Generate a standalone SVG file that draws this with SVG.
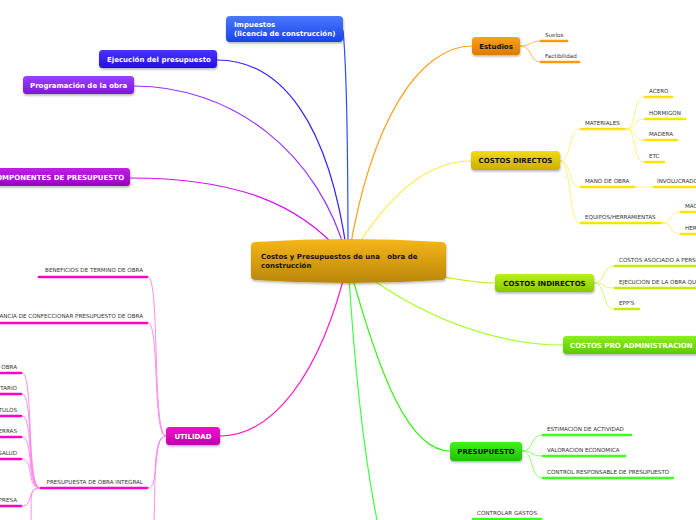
<svg xmlns="http://www.w3.org/2000/svg" width="696" height="520" viewBox="0 0 696 520">
<defs>
<linearGradient id="gC" x1="0" y1="0" x2="0" y2="1"><stop offset="0" stop-color="#f6b617"/><stop offset="1" stop-color="#b9860a"/></linearGradient>
<linearGradient id="gBlue" x1="0" y1="0" x2="0" y2="1"><stop offset="0" stop-color="#4a78ff"/><stop offset="1" stop-color="#1a44e8"/></linearGradient>
<linearGradient id="gInd" x1="0" y1="0" x2="0" y2="1"><stop offset="0" stop-color="#4a34ff"/><stop offset="1" stop-color="#2410e0"/></linearGradient>
<linearGradient id="gVio" x1="0" y1="0" x2="0" y2="1"><stop offset="0" stop-color="#9a40ff"/><stop offset="1" stop-color="#7a18e0"/></linearGradient>
<linearGradient id="gMag" x1="0" y1="0" x2="0" y2="1"><stop offset="0" stop-color="#c020e8"/><stop offset="1" stop-color="#9a00c0"/></linearGradient>
<linearGradient id="gOr" x1="0" y1="0" x2="0" y2="1"><stop offset="0" stop-color="#fba21a"/><stop offset="1" stop-color="#dc7a00"/></linearGradient>
<linearGradient id="gYe" x1="0" y1="0" x2="0" y2="1"><stop offset="0" stop-color="#f2dc10"/><stop offset="1" stop-color="#c8b000"/></linearGradient>
<linearGradient id="gYg" x1="0" y1="0" x2="0" y2="1"><stop offset="0" stop-color="#b8f020"/><stop offset="1" stop-color="#88c800"/></linearGradient>
<linearGradient id="gLg" x1="0" y1="0" x2="0" y2="1"><stop offset="0" stop-color="#8cf020"/><stop offset="1" stop-color="#5cc800"/></linearGradient>
<linearGradient id="gGr" x1="0" y1="0" x2="0" y2="1"><stop offset="0" stop-color="#44f020"/><stop offset="1" stop-color="#20c000"/></linearGradient>
<linearGradient id="gPk" x1="0" y1="0" x2="0" y2="1"><stop offset="0" stop-color="#f010d0"/><stop offset="1" stop-color="#c000a8"/></linearGradient>
<filter id="sh" x="-10%" y="-20%" width="120%" height="150%"><feDropShadow dx="0.5" dy="1.5" stdDeviation="1" flood-color="#000" flood-opacity="0.3"/></filter>
</defs>
<style>
.c{fill:none;stroke-width:1.2}
.u{fill:none;stroke-width:2.6;stroke-linecap:round}
.l{fill:none;stroke-width:0.9}
.t{font-family:"DejaVu Sans",Verdana,sans-serif;font-size:5.6px;fill:#333}
.n{font-family:"DejaVu Sans",Verdana,sans-serif;font-size:7px;font-weight:bold;fill:#fff}
.nb{font-family:"DejaVu Sans",Verdana,sans-serif;font-size:7px;font-weight:bold;fill:#111}
.cb{font-family:"DejaVu Sans",Verdana,sans-serif;font-size:7px;font-weight:bold;fill:#111;white-space:pre}
.r{text-anchor:end}
</style>
<rect width="696" height="520" fill="#fff"/>
<g id="connectors">
<path class="c" stroke="#2a4cff" d="M348,261 C348,150 346,60 343,30"/>
<path class="c" stroke="#3020ff" d="M348,261 C330,120 280,60 217,60"/>
<path class="c" stroke="#9a30ff" d="M348,261 C320,150 230,86 134,86"/>
<path class="c" stroke="#d010f0" d="M348,261 C300,200 230,178 130,178"/>
<path class="c" stroke="#ffa020" d="M348,261 C370,120 420,46 472,46"/>
<path class="c" stroke="#ffe840" d="M348,261 C390,190 430,161 471,161"/>
<path class="c" stroke="#c8f030" d="M348,261 C420,270 460,283 495,283"/>
<path class="c" stroke="#a8ff30" d="M348,261 C420,320 500,345 563,345"/>
<path class="c" stroke="#40f020" d="M348,261 C380,380 410,451 450,451"/>
<path class="c" stroke="#40ff40" d="M348,261 C355,380 365,460 377,520"/>
<path class="c" stroke="#ff20d0" d="M348,261 C320,380 270,436 220,436"/>
<path class="l" stroke="#ffb040" d="M520,46 C532,46 530,41 540,41"/>
<path class="l" stroke="#ffb040" d="M520,46 C532,46 530,62 540,62"/>
<path class="u" stroke="#ff9a10" d="M541,41 H567"/>
<path class="u" stroke="#ff9a10" d="M541,62 H579"/>
<path class="l" stroke="#ffec70" d="M560,161 C572,161 568,129 580,129"/>
<path class="l" stroke="#ffec70" d="M560,161 C572,161 568,187 580,187"/>
<path class="l" stroke="#ffec70" d="M560,161 C572,161 568,223 580,223"/>
<path class="u" stroke="#ffe400" d="M581,129 H624"/>
<path class="u" stroke="#ffe400" d="M581,187 H634"/>
<path class="u" stroke="#ffe400" d="M581,223 H661"/>
<path class="l" stroke="#ffec70" d="M625,129 C638,129 632,97 644,97"/>
<path class="l" stroke="#ffec70" d="M625,129 C638,129 632,119 644,119"/>
<path class="l" stroke="#ffec70" d="M625,129 C638,129 632,140 644,140"/>
<path class="l" stroke="#ffec70" d="M625,129 C638,129 632,162 644,162"/>
<path class="u" stroke="#ffe400" d="M645,97 H672"/>
<path class="u" stroke="#ffe400" d="M645,119 H685"/>
<path class="u" stroke="#ffe400" d="M645,140 H677"/>
<path class="u" stroke="#ffe400" d="M645,162 H664"/>
<path class="l" stroke="#ffec70" d="M635,187 C644,187 645,187 653,187"/>
<path class="u" stroke="#ffe400" d="M654,187 H698"/>
<path class="l" stroke="#ffec70" d="M662,223 C674,223 668,212 680,212"/>
<path class="l" stroke="#ffec70" d="M662,223 C674,223 668,234 680,234"/>
<path class="u" stroke="#ffe400" d="M681,212 H698"/>
<path class="u" stroke="#ffe400" d="M681,234 H698"/>
<path class="l" stroke="#d0f860" d="M594,283 C606,283 602,266 614,266"/>
<path class="l" stroke="#d0f860" d="M594,283 C606,283 602,288 614,288"/>
<path class="l" stroke="#d0f860" d="M594,283 C606,283 602,309 614,309"/>
<path class="u" stroke="#c0f000" d="M615,266 H698"/>
<path class="u" stroke="#c0f000" d="M615,288 H698"/>
<path class="u" stroke="#c0f000" d="M615,309 H639"/>
<path class="l" stroke="#80ff60" d="M522,451 C534,451 530,435 542,435"/>
<path class="l" stroke="#80ff60" d="M522,451 C534,451 530,456 542,456"/>
<path class="l" stroke="#80ff60" d="M522,451 C534,451 530,478 542,478"/>
<path class="u" stroke="#40ff20" d="M543,435 H631"/>
<path class="u" stroke="#40ff20" d="M543,456 H625"/>
<path class="u" stroke="#40ff20" d="M543,478 H673"/>
<path class="u" stroke="#40ff20" d="M473,519 H541"/>
<path class="l" stroke="#ff80e8" d="M166,436 C152,436 160,277 148,277"/>
<path class="l" stroke="#ff80e8" d="M166,436 C152,436 160,323 148,323"/>
<path class="l" stroke="#ff80e8" d="M166,436 C152,436 160,488 148,488"/>
<path class="l" stroke="#ff80e8" d="M166,436 C152,436 156,480 154,520"/>
<path class="u" stroke="#ff00cc" d="M39,277 H147"/>
<path class="u" stroke="#ff00cc" d="M-2,323 H147"/>
<path class="u" stroke="#ff00cc" d="M41,488 H147"/>
<path class="l" stroke="#ff80e8" d="M40,488 C26,488 34,373 22,373"/>
<path class="l" stroke="#ff80e8" d="M40,488 C26,488 34,394 22,394"/>
<path class="l" stroke="#ff80e8" d="M40,488 C26,488 34,416 22,416"/>
<path class="l" stroke="#ff80e8" d="M40,488 C26,488 34,437 22,437"/>
<path class="l" stroke="#ff80e8" d="M40,488 C26,488 34,459 22,459"/>
<path class="l" stroke="#ff80e8" d="M40,488 C26,488 34,506 22,506"/>
<path class="l" stroke="#ff80e8" d="M40,488 C28,488 32,500 31,520"/>
<path class="u" stroke="#ff00cc" d="M-2,373 H21"/>
<path class="u" stroke="#ff00cc" d="M-2,394 H21"/>
<path class="u" stroke="#ff00cc" d="M-2,416 H21"/>
<path class="u" stroke="#ff00cc" d="M-2,437 H21"/>
<path class="u" stroke="#ff00cc" d="M-2,459 H21"/>
<path class="u" stroke="#ff00cc" d="M-2,506 H21"/>
</g>
<g id="labels">
<text class="t" x="545" y="37">Suelos</text>
<text class="t" x="545" y="58">Factibilidad</text>
<text class="t" x="585" y="125">MATERIALES</text>
<text class="t" x="585" y="183">MANO DE OBRA</text>
<text class="t" x="585" y="219">EQUIPOS/HERRAMIENTAS</text>
<text class="t" x="649" y="93">ACERO</text>
<text class="t" x="649" y="115">HORMIGON</text>
<text class="t" x="649" y="136">MADERA</text>
<text class="t" x="649" y="158">ETC</text>
<text class="t" x="657" y="183">INVOLUCRADOS</text>
<text class="t" x="685" y="208">MAQUINARIA</text>
<text class="t" x="685" y="230">HERRAMIENTAS</text>
<text class="t" x="619" y="262">COSTOS ASOCIADO A PERSONAL</text>
<text class="t" x="619" y="284">EJECUCION DE LA OBRA QUE</text>
<text class="t" x="619" y="305">EPP'S</text>
<text class="t" x="547" y="431">ESTIMACION DE ACTIVIDAD</text>
<text class="t" x="547" y="452">VALORACION ECONOMICA</text>
<text class="t" x="547" y="474">CONTROL RESPONSABLE DE PRESUPUESTO</text>
<text class="t" x="477" y="515">CONTROLAR GASTOS</text>
<text class="t r" x="143" y="272">BENEFICIOS DE TERMINO DE OBRA</text>
<text class="t r" x="143" y="318">IMPORTANCIA DE CONFECCIONAR PRESUPUESTO DE OBRA</text>
<text class="t r" x="143" y="484">PRESUPUESTA DE OBRA INTEGRAL</text>
<text class="t r" x="17" y="369">DE OBRA</text>
<text class="t r" x="17" y="390">SANITARIO</text>
<text class="t r" x="17" y="412">CAPITULOS</text>
<text class="t r" x="17" y="433">TIERRAS</text>
<text class="t r" x="17" y="455">SALUD</text>
<text class="t r" x="17" y="502">EMPRESA</text>
</g>
<g id="n-impuestos">
<rect x="226" y="16" width="117" height="26" rx="4" fill="url(#gBlue)" filter="url(#sh)"/>
<text class="n" x="234" y="27">Impuestos</text>
<text class="n" x="234" y="36">(licencia de construcción)</text>
</g>
<g id="n-ejecucion">
<rect x="99" y="50" width="118" height="18" rx="3.5" fill="url(#gInd)" filter="url(#sh)"/>
<text class="n" x="107" y="62">Ejecución del presupuesto</text>
</g>
<g id="n-programacion">
<rect x="23" y="76" width="111" height="18" rx="3.5" fill="url(#gVio)" filter="url(#sh)"/>
<text class="n" x="30" y="88">Programación de la obra</text>
</g>
<g id="n-componentes">
<rect x="-12" y="168" width="142" height="18" rx="3.5" fill="url(#gMag)" filter="url(#sh)"/>
<text class="n" x="-9" y="180">COMPONENTES DE PRESUPUESTO</text>
</g>
<g id="n-estudios">
<rect x="472" y="37" width="48" height="18" rx="3.5" fill="url(#gOr)" filter="url(#sh)"/>
<text class="nb" x="496" y="49" text-anchor="middle">Estudios</text>
</g>
<g id="n-directos">
<rect x="471" y="151" width="89" height="19" rx="3.5" fill="url(#gYe)" filter="url(#sh)"/>
<text class="nb" x="515.5" y="163" text-anchor="middle">COSTOS DIRECTOS</text>
</g>
<g id="n-indirectos">
<rect x="495" y="274" width="99" height="18" rx="3.5" fill="url(#gYg)" filter="url(#sh)"/>
<text class="nb" x="544.5" y="286" text-anchor="middle">COSTOS INDIRECTOS</text>
</g>
<g id="n-admin">
<rect x="563" y="336" width="140" height="18" rx="3.5" fill="url(#gLg)" filter="url(#sh)"/>
<text class="n" x="570" y="348">COSTOS PRO ADMINISTRACION</text>
</g>
<g id="n-presupuesto">
<rect x="450" y="442" width="72" height="19" rx="3.5" fill="url(#gGr)" filter="url(#sh)"/>
<text class="nb" x="486" y="454" text-anchor="middle">PRESUPUESTO</text>
</g>
<g id="n-utilidad">
<rect x="166" y="427" width="54" height="18" rx="3.5" fill="url(#gPk)" filter="url(#sh)"/>
<text class="n" x="193" y="439" text-anchor="middle">UTILIDAD</text>
</g>
<g id="n-central">
<path d="M251,246 Q251,242 256,242 Q348,236 441,242 Q446,242 446,246 L446,276 Q446,280 441,280 Q348,286 256,280 Q251,280 251,276 Z" fill="url(#gC)" filter="url(#sh)"/>
<text class="cb" x="261" y="259" xml:space="preserve">Costos y Presupuestos de una   obra de</text>
<text class="cb" x="261" y="268">construcción</text>
</g>
</svg>
